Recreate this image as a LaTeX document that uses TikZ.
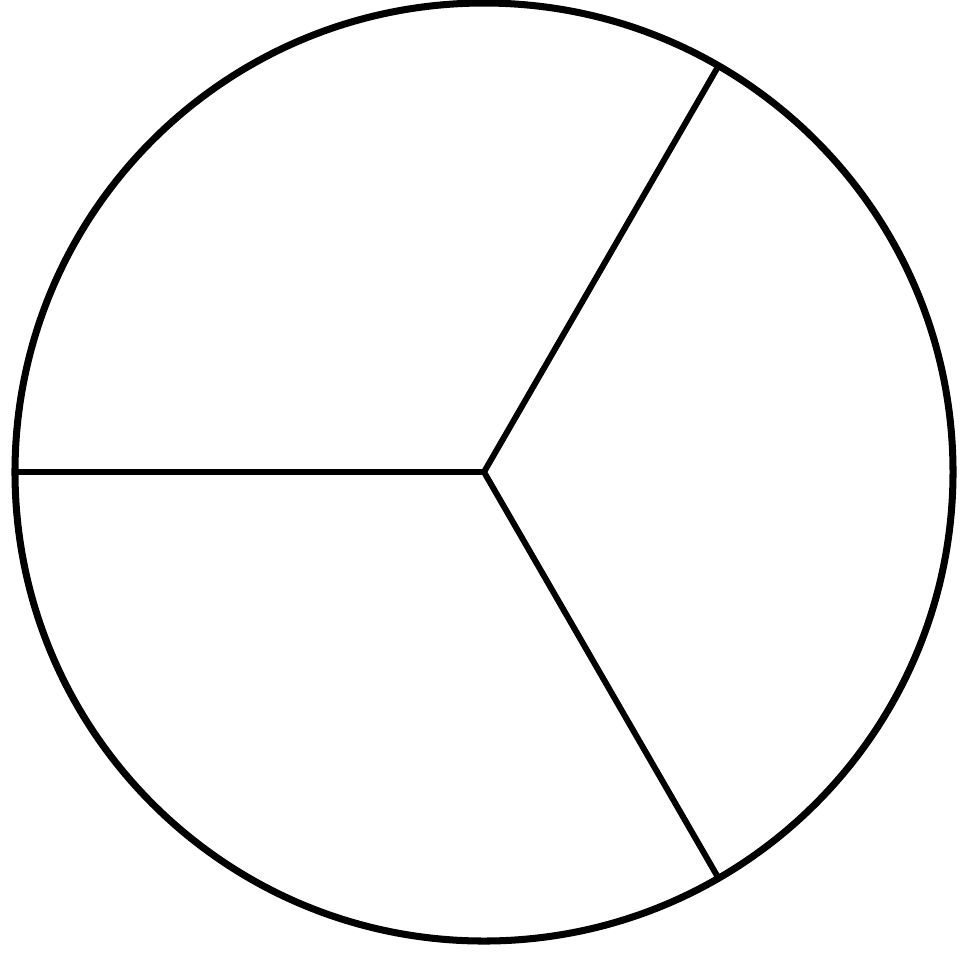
\documentclass[tikz,border=0pt]{standalone}
\usetikzlibrary{calc}

\begin{document}
\begin{tikzpicture}[
  rim/.style={draw=black, line width=2pt},
  spoke/.style={draw=black, line width=1.7pt},
  ]
\useasboundingbox (0,0) rectangle (9.62,9.57);
\coordinate (o) at (4.84,4.85);
\draw[rim] (o) circle[radius=4.69];
\foreach \a/\n in {180/w, 60/ne, -60/se}
  \coordinate (\n) at ($(o)+(\a:4.69)$);
\draw[spoke] (o) -- (w);
\draw[spoke] (o) -- (ne);
\draw[spoke] (o) -- (se);
\end{tikzpicture}
\end{document}
